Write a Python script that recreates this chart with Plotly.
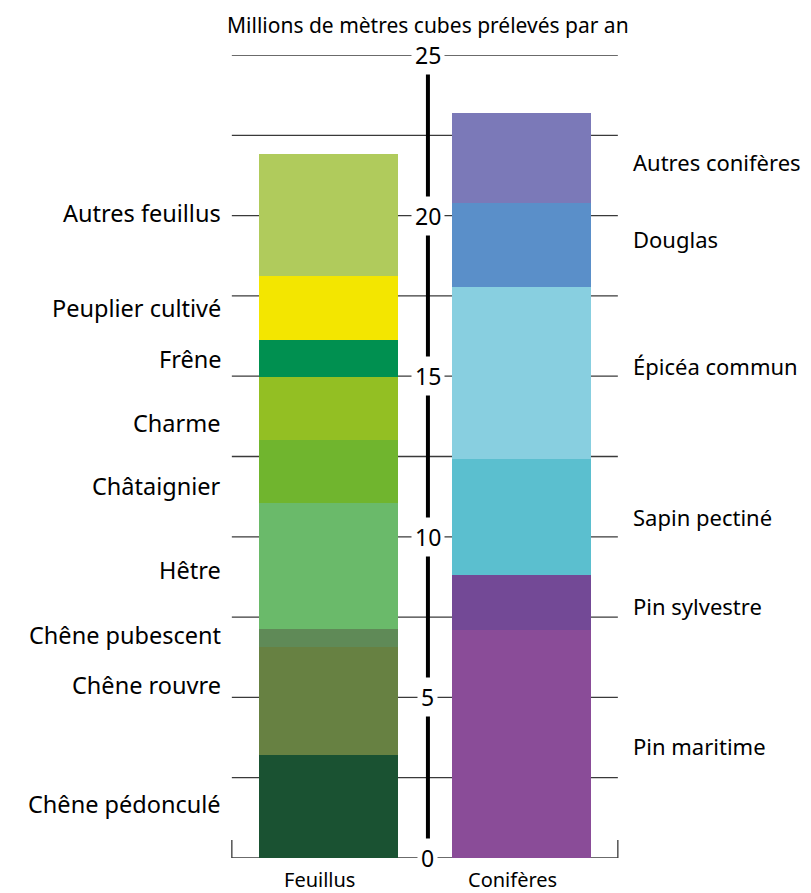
import plotly.graph_objects as go

# ---- data ----
groups = ["Feuillus", "Conifères"]

feuillus_names = ["Chêne pédonculé", "Chêne rouvre", "Chêne pubescent", "Hêtre",
                  "Châtaignier", "Charme", "Frêne", "Peuplier cultivé", "Autres feuillus"]
feuillus_values = [3.22, 3.34, 0.58, 3.90, 1.96, 1.96, 1.17, 2.00, 3.80]
feuillus_colors = ["#1a5232", "#678142", "#5f8a57", "#6aba6a", "#70b52e",
                   "#93bf23", "#009050", "#f3e600", "#b0cb5c"]

coniferes_names = ["Pin maritime", "Pin sylvestre", "Sapin pectiné", "Épicéa commun",
                   "Douglas", "Autres conifères"]
coniferes_values = [7.09, 1.73, 3.61, 5.36, 2.59, 2.82]
coniferes_colors = ["#8a4c98", "#734996", "#5bbfcf", "#88cfe0", "#5a8fc9", "#7b79b8"]

tick_values = [0, 5, 10, 15, 20, 25]
grid_values = [0, 2.5, 5, 7.5, 10, 12.5, 15, 17.5, 20, 22.5, 25]
axis_title = "Millions de mètres cubes prélevés par an"

# label nudges (layout only, in axis units)
feuillus_label_nudge = {"Charme": -0.45, "Châtaignier": -0.45, "Chêne rouvre": 0.5,
                        "Hêtre": -0.12, "Chêne pubescent": 0.1, "Autres feuillus": 0.06,
                        "Chêne pédonculé": 0.06}
coniferes_label_nudge = {"Douglas": 0.2, "Épicéa commun": 0.2, "Autres conifères": -0.12,
                         "Pin sylvestre": -0.1, "Pin maritime": -0.06}

FONT = "Noto Sans"
FS_LEFT = 23.5
FS_RIGHT = 22
FS_SMALL = 21
FS_TICK = 23

fig = go.Figure()
BAR_W = 0.719

def add_stack(xpos, names, values, colors):
    for n, v, c in zip(names, values, colors):
        fig.add_trace(go.Bar(x=[xpos], y=[v], name=n, width=BAR_W,
                             marker=dict(color=c, line=dict(width=0)),
                             showlegend=False, hoverinfo="name+y"))

add_stack(0, feuillus_names, feuillus_values, feuillus_colors)
add_stack(1, coniferes_names, coniferes_values, coniferes_colors)

shapes = []
# gridlines behind bars
for g in grid_values:
    shapes.append(dict(type="line", xref="x", yref="y", x0=-0.5, x1=1.5, y0=g, y1=g,
                       line=dict(color="#3a3a3a", width=1.3), layer="below"))
# bracket ends at zero
for xe in (-0.5, 1.5):
    shapes.append(dict(type="line", xref="x", yref="y", x0=xe, x1=xe, y0=0, y1=0.56,
                       line=dict(color="#3a3a3a", width=1.3), layer="below"))
# central axis
AX = 0.516
shapes.append(dict(type="line", xref="x", yref="y", x0=AX, x1=AX, y0=0, y1=25,
                   line=dict(color="black", width=4), layer="above"))

annotations = []
for t in tick_values:
    annotations.append(dict(x=AX, y=t, xref="x", yref="y", text=str(t), showarrow=False,
                            font=dict(family=FONT, size=FS_TICK, color="black"),
                            bgcolor="white", borderpad=3, xanchor="center", yanchor="middle"))

def add_labels(names, values, nudge, xe, side, fs):
    base = 0
    for n, v in zip(names, values):
        mid = base + v / 2 + nudge.get(n, 0)
        base += v
        annotations.append(dict(x=xe, y=mid, xref="x", yref="y", text=n, showarrow=False,
                                font=dict(family=FONT, size=fs, color="black"),
                                xanchor="right" if side == "left" else "left",
                                xshift=-9 if side == "left" else 13,
                                yanchor="middle"))

add_labels(feuillus_names, feuillus_values, feuillus_label_nudge, -0.5, "left", FS_LEFT)
add_labels(coniferes_names, coniferes_values, coniferes_label_nudge, 1.5, "right", FS_RIGHT)

for i, gname in enumerate(groups):
    annotations.append(dict(x=i - 0.045, y=0, xref="x", yref="y", text=gname, showarrow=False,
                            font=dict(family=FONT, size=20, color="black"),
                            xanchor="center", yanchor="middle", yshift=-21))

annotations.append(dict(x=AX, y=25, xref="x", yref="y", text=axis_title, showarrow=False,
                        font=dict(family=FONT, size=FS_SMALL, color="black"),
                        xanchor="center", yanchor="middle", yshift=30))

# page body has an 8px margin: figure drawn at (8, 8) in the window
fig.update_layout(
    width=803, height=885,
    margin=dict(l=0, r=0, t=47, b=35, pad=0),
    paper_bgcolor="white", plot_bgcolor="white",
    barmode="stack", bargap=0,
    xaxis=dict(range=[-1.6598, 2.5008], visible=False, fixedrange=True),
    yaxis=dict(range=[0, 25], visible=False, fixedrange=True),
    shapes=shapes, annotations=annotations,
    showlegend=False,
)

fig.write_html("out.html")
